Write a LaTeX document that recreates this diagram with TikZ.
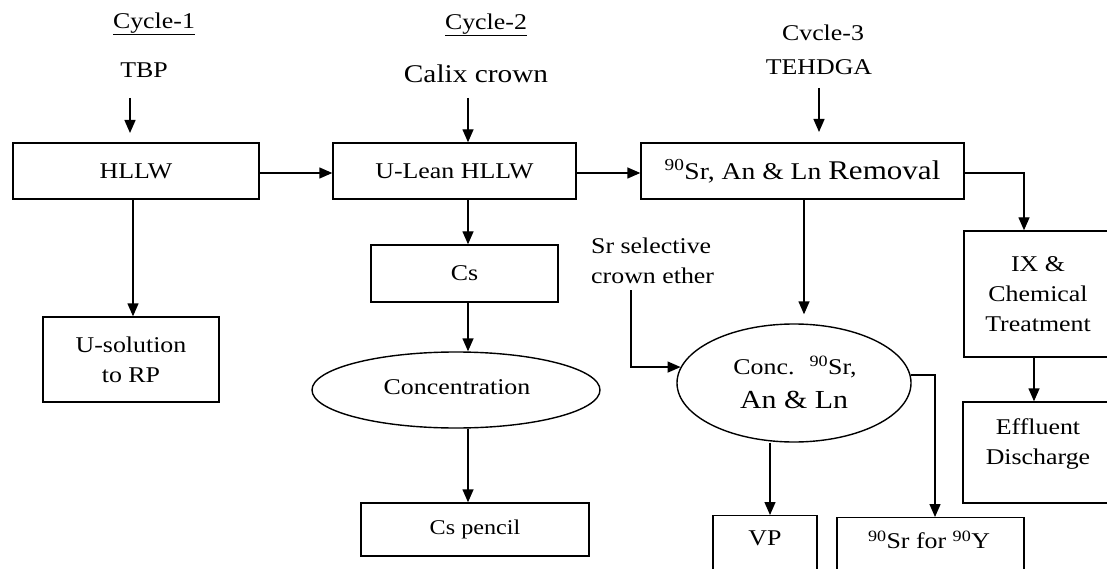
\documentclass[tikz,border=0pt]{standalone}
\usepackage{fontspec}
\setmainfont{Liberation Serif}[FakeStretch=1.15]
\usetikzlibrary{arrows.meta,shapes.geometric}
\begin{document}
\begin{tikzpicture}[x=1pt,y=-1pt,
  every node/.style={font=\fontsize{22.5}{30}\selectfont, inner sep=0pt},
  box/.style={draw, line width=1.4pt, rectangle},
  oval/.style={draw, line width=1.4pt, ellipse},
  txt/.style={align=center},
  big/.style={font=\fontsize{26}{30}\selectfont},
  arr/.style={line width=1.4pt, -{Triangle[length=13pt,width=11pt]}}]
\useasboundingbox (0,0) rectangle (1107,569);
\clip (0,0) rectangle (1107,569);
\fill[white] (0,0) rectangle (1107,569);

% headings and reagents
\node (c1) at (154,24) {\underline{Cycle-1}};
\node (tbp) at (144,70) {TBP};
\node (c2) at (486,25) {\underline{Cycle-2}};
\node[font=\fontsize{25.5}{30}\selectfont] (calix) at (476,74) {Calix crown};
\node (c3) at (823,33) {Cvcle-3};
\node (tehdga) at (819,67) {TEHDGA};
\node[anchor=west, align=left] (sel) at (591,261) {Sr selective\\crown ether};

% process boxes
\node[box, minimum width=246, minimum height=56] (hllw) at (136,171) {HLLW};
\node[box, minimum width=243, minimum height=56] (ulean) at (454.5,171) {U-Lean HLLW};
\node[box, minimum width=323, minimum height=56, font=\fontsize{24}{30}\selectfont] (rem) at (802.5,171)
  {\textsuperscript{90}Sr, An \& Ln {\fontsize{27}{30}\selectfont Removal}};
\node[box, minimum width=176, minimum height=85, align=center] (usol) at (131,359.5) {U-solution\\to RP};
\node[box, minimum width=187, minimum height=57] (cs) at (464.5,273.5) {Cs};
\node[oval, minimum width=288, minimum height=76] (conc) at (456,390) {};
\node (conct) at (457,387) {Concentration};
\node[box, minimum width=228, minimum height=53, font=\fontsize{21}{30}\selectfont] (pencil) at (475,529.5) {Cs pencil};
\node[box, minimum width=148, minimum height=126, align=center] (ix) at (1038,294) {IX \&\\Chemical\\Treatment};
\node[box, minimum width=149, minimum height=101] (eff) at (1037.5,452.5) {};
\node[txt] (efft) at (1038,444) {Effluent\\Discharge};
\node[oval, minimum width=234, minimum height=118] (srcs) at (794,383) {};
\node (srt1) at (795,367) {Conc.~ \textsuperscript{90}Sr,};
\node[big] (srt2) at (794,400) {An \& Ln};
\node[box, minimum width=104, minimum height=90, anchor=north] (vp) at (765,515) {};
\node (vpt) at (765,538) {VP};
\node[box, minimum width=187, minimum height=90, anchor=north] (sry) at (930.5,517) {};
\node (sryt) at (929,540) {\textsuperscript{90}Sr for \textsuperscript{90}Y};

% free ends of the reagent feeds
\coordinate (tbpa) at (130,98);
\coordinate (tbpb) at (130,133);
\coordinate (calixa) at (468,98);
\coordinate (tea) at (819,88);
\coordinate (teb) at (819,132);
\coordinate (sela) at (631,290);

% connectors
\draw[arr] (tbpa) -- (tbpb);
\draw[arr] (calixa) -- (calixa |- ulean.north);
\draw[arr] (tea) -- (teb);
\draw[arr] (hllw.east |- 0,173) -- (ulean.west |- 0,173);
\draw[arr] (ulean.east |- 0,173) -- (rem.west |- 0,173);
\draw[arr] (rem.east |- 0,173) -| (ix.north -| 1024,0);
\draw[arr] (hllw.south -| 133,0) -- (usol.north -| 133,0);
\draw[arr] (ulean.south -| 468,0) -- (cs.north -| 468,0);
\draw[arr] (cs.south -| 468,0) -- (conc.north -| 468,0);
\draw[arr] (conc.south -| 468,0) -- (pencil.north -| 468,0);
\draw[arr, shorten >=9pt] (rem.south -| 804,0) -- (srcs.north -| 804,0);
\draw[arr] (sela) |- (srcs.172);
\draw[arr] (srcs.south -| 770,0) -- (vp.north -| 770,0);
\draw[arr] (srcs.4) -| (sry.north -| 935,0);
\draw[arr] (ix.south -| 1034,0) -- (eff.north -| 1034,0);
\end{tikzpicture}
\end{document}
